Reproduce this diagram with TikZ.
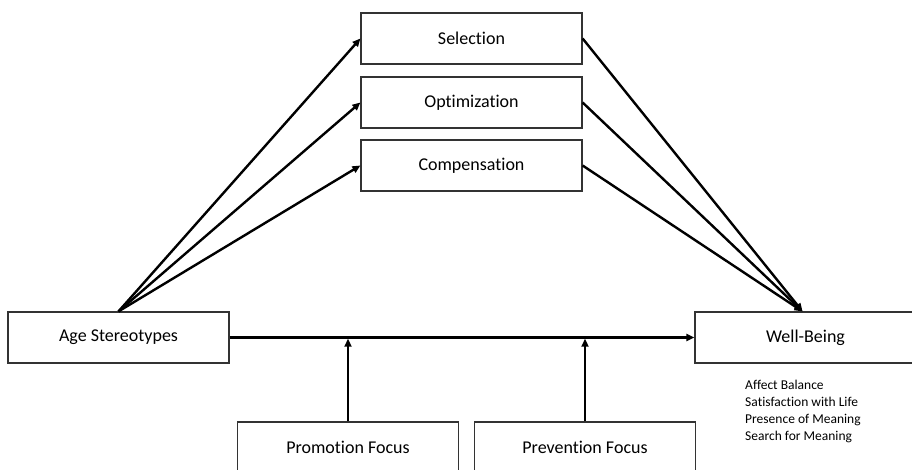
\documentclass[tikz,border=0pt]{standalone}
\usepackage{fontspec}
\setmainfont{Carlito}[Ligatures=NoCommon]
\usepackage{tikz}
\usetikzlibrary{arrows.meta, positioning, calc}

\begin{document}
\begin{tikzpicture}[x=1pt,y=-1pt]
    \tikzstyle{every node} = [font=\fontsize{18}{21}\selectfont]
    \tikzstyle{box} = [draw=black!80, line width=1.2pt, rectangle, fill=white, inner sep=0pt, minimum width=221pt, minimum height=51pt]
    \tikzstyle{link} = [line width=2.4pt, -{Triangle[length=8pt,width=7pt]}]
    \clip (0,0) rectangle (912,469);
    % place nodes
    \node[box](selection) at (471.5,38.5){Selection};
    \node[box](optimization) at (471.5,102.5){Optimization};
    \node[box](compensation) at (471.5,165.5){Compensation};
    \node[box](ageStereo) at (118.5,337.5){Age Stereotypes};
    \node[box](wellBeing) at (805.5,337.5){Well-Being};
    \node[box](promotion) at (348,447.5){Promotion Focus};
    \node[box](prevention) at (585,447.5){Prevention Focus};
    \node[anchor=north west, align=left, inner sep=0pt, font=\fontsize{13.5}{17}\selectfont](measures) at (745,380)
    {Affect Balance\\Satisfaction with Life\\Presence of Meaning\\Search for Meaning};

    \coordinate (wellTop) at ([xshift=-3pt]wellBeing.north);
    \coordinate (promoHit) at (promotion.north |- ageStereo.east);
    \coordinate (preventHit) at (prevention.north |- ageStereo.east);

    % Connections
    \draw[link] (ageStereo.north)--(selection.west);
    \draw[link] (ageStereo.north)--(optimization.west);
    \draw[link] (ageStereo.north)--(compensation.west);
    \draw[link] (selection.east)--(wellTop);
    \draw[link] (optimization.east)--(wellTop);
    \draw[link] (compensation.east)--(wellTop);
    \draw[link] (ageStereo.east)--(wellBeing.west);
    \draw[link,shorten >=1.2pt] (promotion.north)--(promoHit);
    \draw[link,shorten >=1.2pt] (prevention.north)--(preventHit);

\end{tikzpicture}
\end{document}
